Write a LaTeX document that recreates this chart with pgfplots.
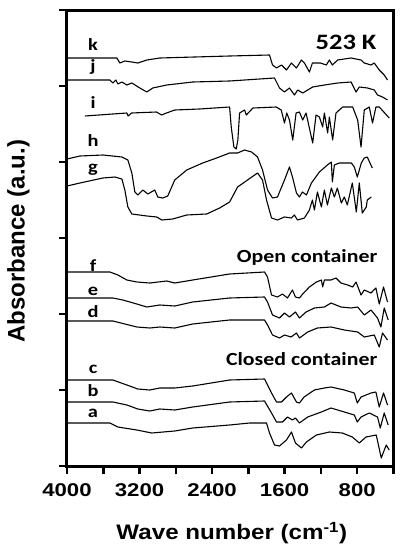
\documentclass[border=0pt]{standalone}
\usepackage{pgfplots}
\pgfplotsset{compat=1.18}
\usepackage{fontspec}
\setmainfont{Liberation Sans}
\newfontfamily\calfont{Carlito}

\pgfplotsset{
  spec/.style={black, line width=1.1pt, no markers, line join=round},
}
\tikzset{
  lab/.style={font=\calfont\bfseries\fontsize{17}{19}\selectfont, xscale=1.2, anchor=base, inner sep=0pt},
  big/.style={font=\calfont\bfseries\fontsize{18.5}{20}\selectfont, xscale=1.18, anchor=base, inner sep=0pt},
}

\begin{document}
\begin{tikzpicture}
\useasboundingbox (-67pt,-84pt) rectangle (335pt,466pt);
\begin{axis}[
  at={(0,0)}, anchor=south west,
  scale only axis, width=326.5pt, height=456pt,
  x dir=reverse, xmin=400, xmax=4000, ymin=0, ymax=456,
  xtick={4000,3200,2400,1600,800},
  minor xtick={3600,2800,2000,1200,400},
  ytick={0,76,...,456}, yticklabels={},
  xtick pos=bottom, ytick pos=left,
  tick align=outside,
  major tick length=8pt, minor tick length=8pt,
  tick style={black, line width=2.5pt},
  axis line style={line width=3pt},
  /pgf/number format/1000 sep={},
  /pgf/number format/assume math mode=true,
  xticklabel style={font=\bfseries\fontsize{18.5}{20}\selectfont, xscale=1.2, yshift=-6pt},
  xlabel={Wave number (cm\textsuperscript{-1})},
  xlabel style={font=\bfseries\fontsize{21}{24}\selectfont, xscale=1.15,
    at={(axis description cs:0.505,-0.147)}, anchor=center},
  ylabel={Absorbance (a.u.)},
  ylabel style={font=\bfseries\fontsize{24}{26}\selectfont,
    at={(axis description cs:-0.1485,0.493)}, anchor=center},
  clip=false,
]
% k
\addplot[spec] coordinates {
(4000,408) (3450,408) (3417,403) (3362,405) (3285,404) (3219,403) (3120,406)
(2977,408) (2207,410) (1767,411) (1734,401) (1690,398) (1635,401) (1580,396)
(1525,403) (1470,398) (1415,406) (1382,403) (1327,394) (1294,403) (1206,403)
(1140,401) (1107,406) (1074,401) (1016,406) (868,408) (758,406) (722,403)
(648,401) (612,403) (557,396) (502,391) (466,386)
};
% j
\addplot[spec] coordinates {
(4000,386) (3527,386) (3494,383) (3461,386) (3439,382) (3395,384) (3340,381)
(3285,383) (3197,378) (3120,374) (3054,378) (2900,381) (2614,384) (2207,385)
(1712,388) (1657,378) (1602,374) (1547,378) (1492,371) (1456,376) (1401,373)
(1346,376) (1291,379) (1162,381) (1016,383) (868,384) (813,374) (777,379)
(686,378) (612,376) (576,371) (521,369) (466,366)
};
% i
\addplot[spec] coordinates {
(3802,350) (3340,353) (3326,350) (3289,353) (3013,354) (2958,351) (2903,353)
(2812,356) (2537,357) (2207,359) (2189,339) (2160,319) (2134,317) (2116,326)
(2097,353) (2042,356) (2023,351) (1950,358) (1693,359) (1638,356) (1602,343)
(1577,353) (1547,346) (1511,326) (1474,353) (1437,354) (1401,346) (1364,353)
(1291,323) (1254,351) (1217,349) (1181,339) (1162,353) (1126,333) (1107,349)
(1071,326) (1034,353) (960,359) (850,359) (795,346) (758,319) (722,356)
(667,359) (631,343) (594,359) (557,359) (447,348)
};
% h
\addplot[spec] coordinates {
(4000,307) (3857,310) (3604,311) (3395,309) (3329,306) (3285,293) (3252,274)
(3219,271) (3164,276) (3109,272) (3032,276) (2999,269) (2944,268) (2889,270)
(2812,286) (2680,296) (2504,303) (2350,308) (2207,313) (2119,313) (2042,316)
(1965,314) (1899,309) (1844,296) (1789,276) (1734,268) (1679,269) (1602,286)
(1547,299) (1514,289) (1470,273) (1437,269) (1404,274) (1360,271) (1305,283)
(1217,294) (1129,301) (1085,304) (1074,284) (1052,301) (997,303) (865,303)
(832,299) (799,289) (755,303) (722,308) (689,309) (634,298)
};
% g
\addplot[spec] coordinates {
(4000,280) (3857,283) (3604,288) (3472,289) (3395,287) (3362,276) (3329,259)
(3285,252) (3120,250) (3010,249) (2955,246) (2834,247) (2680,251) (2460,252)
(2317,258) (2207,264) (2119,279) (2009,286) (1899,293) (1844,286) (1800,266)
(1745,248) (1679,246) (1602,249) (1525,248) (1492,251) (1459,246) (1382,248)
(1327,256) (1294,266) (1272,256) (1239,274) (1195,259) (1162,276) (1129,261)
(1085,278) (1052,269) (1019,278) (975,263) (942,269) (909,261) (854,283)
(810,254) (777,283) (744,253) (700,259) (689,266) (645,269)
};
% f
\addplot[spec] coordinates {
(4000,194) (3527,194) (3439,191) (3340,186) (3230,184) (3087,183) (2900,185)
(2812,183) (2614,186) (2207,192) (1822,194) (1789,189) (1745,171) (1679,169)
(1624,172) (1569,168) (1514,176) (1481,169) (1437,168) (1401,172) (1327,179)
(1250,184) (1195,186) (1181,179) (1162,186) (1089,186) (1034,188) (979,183)
(905,181) (850,179) (813,184) (758,171) (722,176) (648,173) (594,178)
(557,162) (510,179) (466,164)
};
% e
\addplot[spec] coordinates {
(4000,168) (3494,168) (3384,166) (3230,162) (3120,159) (2977,161) (2812,160)
(2614,164) (2207,168) (1822,169) (1789,164) (1734,151) (1657,148) (1602,153)
(1547,149) (1481,154) (1437,148) (1364,154) (1272,158) (1162,159) (1089,163)
(979,159) (868,158) (795,159) (722,151) (648,156) (576,148) (539,139)
(502,158) (458,146)
};
% d
\addplot[spec] coordinates {
(4000,145) (3494,145) (3362,142) (3230,139) (3087,138) (2977,139) (2812,138)
(2614,142) (2207,146) (1822,146) (1789,141) (1734,131) (1657,128) (1602,131)
(1529,129) (1470,133) (1437,128) (1346,134) (1239,138) (1089,139) (942,136)
(795,134) (722,129) (612,131) (557,119) (521,133) (466,126)
};
% c
\addplot[spec] coordinates {
(4000,86) (3494,86) (3340,81) (3219,77) (3087,76) (2977,78) (2812,78)
(2614,80) (2207,86) (1822,87) (1745,73) (1690,64) (1635,64) (1580,69)
(1525,73) (1470,64) (1437,63) (1386,69) (1272,76) (1162,78) (1089,79)
(942,76) (832,73) (799,63) (758,69) (648,73) (594,74) (557,59) (510,73) (466,61)
};
% b
\addplot[spec] coordinates {
(4000,64) (3494,64) (3340,61) (3219,57) (3087,55) (2977,57) (2812,56)
(2614,59) (2207,64) (1822,65) (1745,53) (1690,44) (1624,44) (1569,49)
(1514,46) (1481,48) (1437,43) (1346,49) (1195,54) (1089,58) (942,54)
(832,51) (799,44) (758,49) (667,53) (576,49) (546,38) (502,53) (458,41)
};
% a
\addplot[spec] coordinates {
(4000,43) (3527,43) (3439,39) (3230,36) (3065,33) (2940,34) (2812,35)
(2614,38) (2207,41) (1987,43) (1800,43) (1767,33) (1712,21) (1657,20)
(1580,26) (1525,34) (1481,23) (1415,18) (1360,24) (1250,31) (1107,34)
(964,33) (854,29) (777,23) (703,29) (590,31) (535,8) (480,21) (447,16)
};

\node[lab] at (axis cs:3713,416) {k};
\node[lab] at (axis cs:3713,395) {j};
\node[lab] at (axis cs:3713,358) {i};
\node[lab] at (axis cs:3713,320) {h};
\node[lab] at (axis cs:3713,294) {g};
\node[lab] at (axis cs:3713,195) {f};
\node[lab] at (axis cs:3713,171) {e};
\node[lab] at (axis cs:3713,149) {d};
\node[lab] at (axis cs:3713,93) {c};
\node[lab] at (axis cs:3713,70) {b};
\node[lab] at (axis cs:3713,49) {a};

\node[big, font=\calfont\bfseries\fontsize{22}{24}\selectfont, xscale=1.02] at (axis cs:923,417) {523 K};
\node[big] at (axis cs:1353,204) {Open container};
\node[big] at (axis cs:1413,101) {Closed container};
\end{axis}
\end{tikzpicture}
\end{document}
